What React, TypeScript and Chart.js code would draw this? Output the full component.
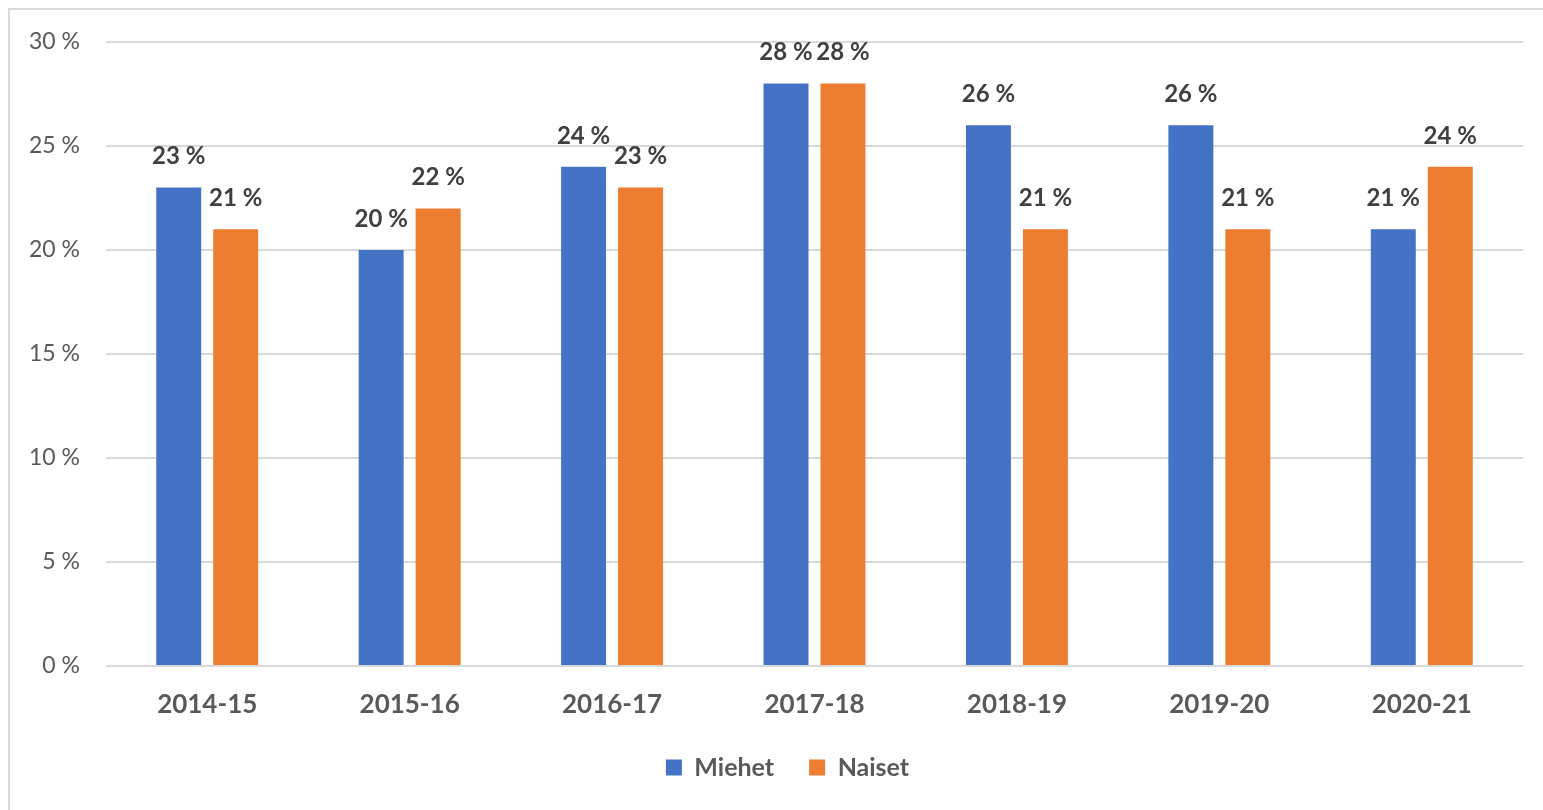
import React, { useEffect, useRef } from "react";
import { Chart, registerables } from "chart.js";

Chart.register(...registerables);

const categories = ["2014-15", "2015-16", "2016-17", "2017-18", "2018-19", "2019-20", "2020-21"];
const miehet = [23, 20, 24, 28, 26, 26, 21];
const naiset = [21, 22, 23, 28, 21, 21, 24];
const seriesNames = ["Miehet", "Naiset"];
const yTicks = [0, 5, 10, 15, 20, 25, 30];

const FONT = "Lato, 'Open Sans', sans-serif";

const dataLabelPlugin = {
  id: "dataLabels",
  afterDatasetsDraw(chart: any) {
    const ctx = chart.ctx;
    ctx.save();
    ctx.font = `bold 24px ${FONT}`;
    ctx.fillStyle = "#404040";
    ctx.textAlign = "center";
    ctx.textBaseline = "middle";
    chart.data.datasets.forEach((ds: any, i: number) => {
      const meta = chart.getDatasetMeta(i);
      meta.data.forEach((bar: any, j: number) => {
        ctx.fillText(`${ds.data[j]} %`, bar.x, bar.y - 31);
      });
    });
    ctx.restore();
  },
};

const legendShiftPlugin = {
  id: "legendShift",
  beforeDraw(chart: any) {
    const lg = chart.legend;
    if (lg && !lg._shifted) {
      lg.left += 16;
      lg.right += 16;
      lg._shifted = true;
    }
  },
  afterLayout(chart: any) {
    if (chart.legend) chart.legend._shifted = false;
  },
};

export default function App() {
  const ref = useRef<HTMLCanvasElement>(null);
  useEffect(() => {
    if (!ref.current) return;
    const chart = new Chart(ref.current, {
      type: "bar",
      data: {
        labels: categories,
        datasets: [
          {
            label: seriesNames[0],
            data: miehet,
            backgroundColor: "#4472C4",
            categoryPercentage: 0.563,
            barPercentage: 0.789,
          },
          {
            label: seriesNames[1],
            data: naiset,
            backgroundColor: "#ED7D31",
            categoryPercentage: 0.563,
            barPercentage: 0.789,
          },
        ],
      },
      options: {
        responsive: false,
        animation: false,
        devicePixelRatio: 1,
        layout: { padding: { top: 32, left: 10, right: 20, bottom: 20 } },
        plugins: {
          tooltip: { enabled: false },
          legend: {
            position: "bottom",
            labels: {
              boxWidth: 16,
              boxHeight: 16,
              padding: 35,
              color: "#595959",
              font: { family: FONT, size: 25, weight: "bold" },
            },
          },
        },
        scales: {
          x: {
            grid: { display: false },
            border: { display: false },
            ticks: {
              color: "#595959",
              padding: 15,
              font: { family: FONT, size: 26, weight: "bold" },
            },
            afterFit(scale: any) {
              scale.height = 54;
            },
          },
          y: {
            min: 0,
            max: 30,
            afterBuildTicks(scale: any) {
              scale.ticks = yTicks.map((v) => ({ value: v }));
            },
            grid: { color: "#d9d9d9", lineWidth: 2, drawTicks: false },
            border: { display: false },
            ticks: {
              color: "#595959",
              padding: 26,
              font: { family: FONT, size: 23 },
              callback: (v: any) => `${v} %`,
            },
            afterFit(scale: any) {
              scale.width = 86;
              scale.paddingTop = 0;
              scale.paddingBottom = 0;
            },
          },
        },
      },
      plugins: [dataLabelPlugin, legendShiftPlugin],
    });
    return () => chart.destroy();
  }, []);
  return (
    <div
      style={{
        position: "fixed",
        left: 8,
        top: 8,
        width: 1535,
        height: 802,
        borderTop: "2px solid #d9d9d9",
        borderLeft: "2px solid #d9d9d9",
        boxSizing: "border-box",
        background: "#fff",
      }}
    >
      <canvas ref={ref} width={1533} height={800} style={{ display: "block" }} />
    </div>
  );
}
